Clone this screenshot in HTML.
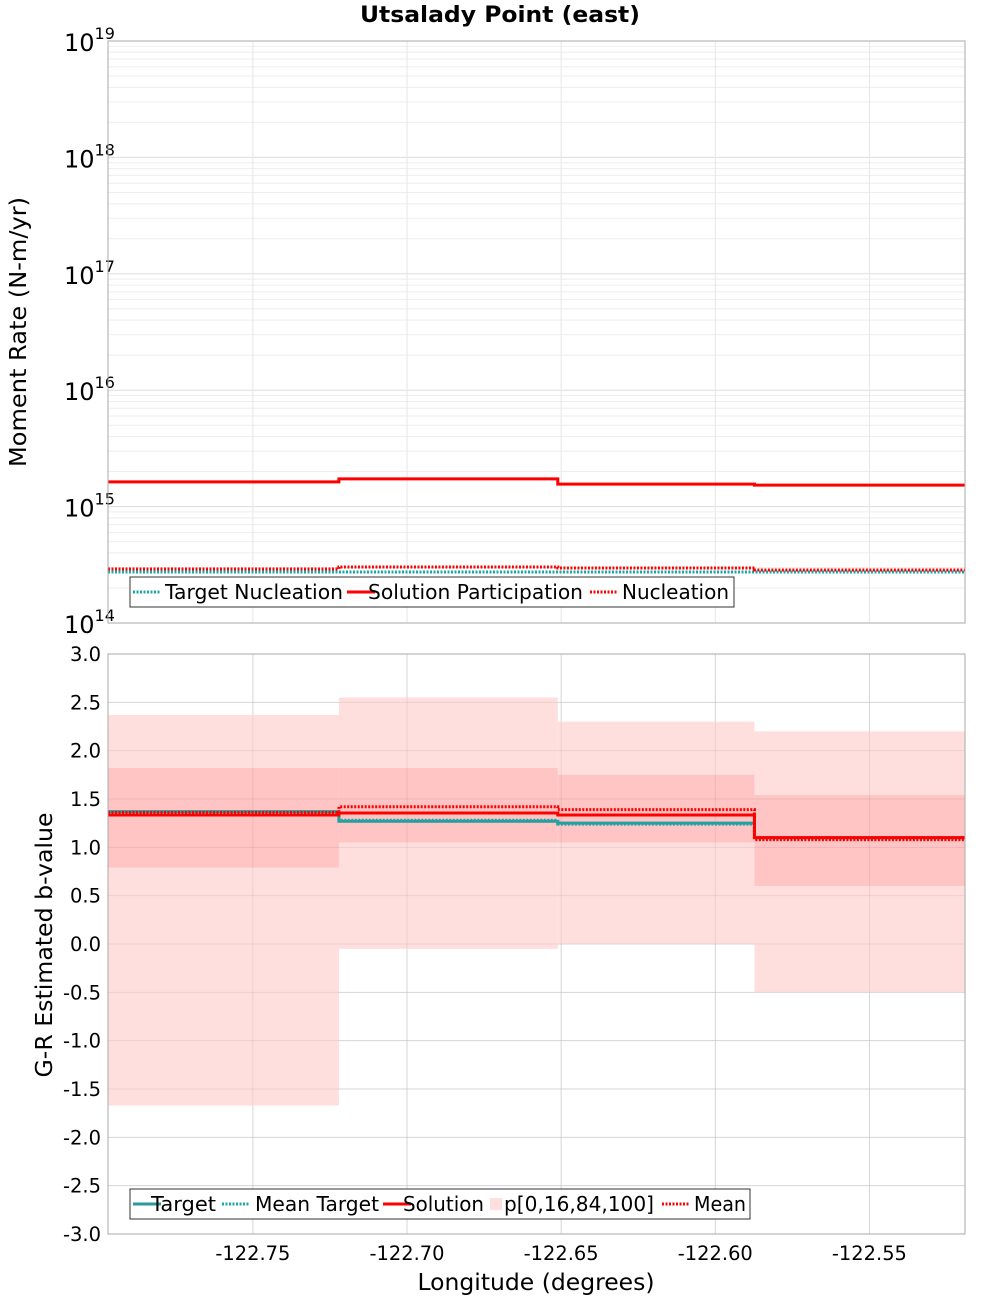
<!DOCTYPE html>
<html><head><meta charset="utf-8"><style>
body{margin:0;background:#fff;font-family:"Liberation Sans","DejaVu Sans",sans-serif}
svg text{font-family:"DejaVu Sans","Liberation Sans",sans-serif}
</style></head><body>
<svg id="c" width="1000" height="1300" xmlns="http://www.w3.org/2000/svg"></svg>
<script>
const binEdges=[-122.797,-122.7221,-122.6511,-122.5873,-122.519];
const xTicks=[-122.75,-122.70,-122.65,-122.60,-122.55];
const xTickLabels=["-122.75","-122.70","-122.65","-122.60","-122.55"];
const solPart=[1.63e15,1.73e15,1.56e15,1.53e15];
const nucl=[2.91e14,3.03e14,2.97e14,2.85e14];
const targetNucl=[2.74e14,2.74e14,2.74e14,2.74e14];
const bTarget=[1.37,1.27,1.25,1.10];
const bMeanTarget=[1.37,1.28,1.24,1.08];
const bSolution=[1.335,1.355,1.335,1.10];
const bMean=[1.36,1.42,1.39,1.08];
const p0=[-1.67,-0.05,0.0,-0.5];
const p16=[0.79,1.05,1.05,0.60];
const p84=[1.82,1.82,1.75,1.54];
const p100=[2.37,2.55,2.30,2.20];
const bTicks=[3,2.5,2,1.5,1,0.5,0,-0.5,-1,-1.5,-2,-2.5,-3];

const NS="http://www.w3.org/2000/svg";const svg=document.getElementById('c');
function mk(t,a,p){const e=document.createElementNS(NS,t);for(const k in a)e.setAttribute(k,a[k]);(p||svg).appendChild(e);return e;}
const L=108,R=965,T1=41,B1=623,T2=654,B2=1234;
const xs=v=>L+(v-binEdges[0])/(binEdges[4]-binEdges[0])*(R-L);
const ys1=v=>T1+(19-Math.log10(v))/5*(B1-T1);
const ys2=v=>T2+(3-v)/6*(B2-T2);

let t=mk('text',{x:500,y:22,'text-anchor':'middle','font-size':22,'font-weight':'bold',textLength:280,lengthAdjust:'spacingAndGlyphs'});t.textContent="Utsalady Point (east)";


let g=mk('g',{});
for(let d=14;d<19;d++)for(let m=1;m<10;m++){const y=ys1(m*Math.pow(10,d));mk('line',{x1:L,x2:R,y1:y,y2:y,stroke:m==1?'#ddd':'#eee','stroke-width':1},g);}
xTicks.forEach(v=>{mk('line',{x1:xs(v),x2:xs(v),y1:T1,y2:B1,stroke:'#e6e6e6'},g);mk('line',{x1:xs(v),x2:xs(v),y1:T2,y2:B2,stroke:'#e6e6e6'},g);});
bTicks.forEach(v=>mk('line',{x1:L,x2:R,y1:ys2(v),y2:ys2(v),stroke:'#e6e6e6'},g));
for(let d=14;d<=19;d++){const y=ys1(Math.pow(10,d));let e=mk('text',{x:64,y:y+10,'font-size':24});e.innerHTML='10<tspan dy="-12" font-size="16">'+d+'</tspan>';
}
t=mk('text',{transform:'translate(26,332) rotate(-90)','text-anchor':'middle','font-size':23,textLength:270,lengthAdjust:'spacingAndGlyphs'});t.textContent="Moment Rate (N-m/yr)";


function step(arr,ys,attrs,name){let d='';for(let i=0;i<arr.length;i++){const y=ys(arr[i]);d+=(i?'L':'M')+xs(binEdges[i])+','+y+'L'+xs(binEdges[i+1])+','+y;}
const p=mk('path',Object.assign({d:d,fill:'none'},attrs));}
step(targetNucl,ys1,{stroke:'#1aa8a8','stroke-width':3,'stroke-dasharray':'2,1.5'},'target-nucleation-line');
step(nucl,ys1,{stroke:'#f00','stroke-width':3,'stroke-dasharray':'2,1.5'},'nucleation-line');
step(solPart,ys1,{stroke:'#f00','stroke-width':3},'solution-participation-line');
mk('rect',{x:L,y:T1,width:R-L,height:B1-T1,fill:'none',stroke:'#aaa'});

for(let i=0;i<4;i++){const x=xs(binEdges[i]),w=xs(binEdges[i+1])-x;
let r=mk('rect',{x:x,y:ys2(p100[i]),width:w,height:ys2(p0[i])-ys2(p100[i]),fill:'#ffdede'});
r=mk('rect',{x:x,y:ys2(p84[i]),width:w,height:ys2(p16[i])-ys2(p84[i]),fill:'#ffc4c4'});}
bTicks.forEach(v=>mk('line',{x1:L,x2:R,y1:ys2(v),y2:ys2(v),stroke:'rgba(0,0,0,0.07)'}));
xTicks.forEach(v=>mk('line',{x1:xs(v),x2:xs(v),y1:T2,y2:B2,stroke:'rgba(0,0,0,0.07)'}));
step(bTarget,ys2,{stroke:'#2a9a9a','stroke-width':3},'target-line');
step(bMeanTarget,ys2,{stroke:'#1aa8a8','stroke-width':3,'stroke-dasharray':'2,1.5'},'mean-target-line');
step(bSolution,ys2,{stroke:'#f00','stroke-width':3},'solution-line');
step(bMean,ys2,{stroke:'#f00','stroke-width':3,'stroke-dasharray':'2,1.5'},'mean-line');
mk('rect',{x:L,y:T2,width:R-L,height:B2-T2,fill:'none',stroke:'#aaa'});
bTicks.forEach(v=>{const e=mk('text',{x:101,y:ys2(v)+7,'text-anchor':'end','font-size':19.5});e.textContent=v.toFixed(1);
});
t=mk('text',{transform:'translate(52,945) rotate(-90)','text-anchor':'middle','font-size':23,textLength:265,lengthAdjust:'spacingAndGlyphs'});t.textContent="G-R Estimated b-value";

xTicks.forEach((v,i)=>{const e=mk('text',{x:xs(v),y:1260,'text-anchor':'middle','font-size':19.5,textLength:75,lengthAdjust:'spacingAndGlyphs'});e.textContent=xTickLabels[i];
});
t=mk('text',{x:536,y:1290,'text-anchor':'middle','font-size':23,textLength:237,lengthAdjust:'spacingAndGlyphs'});t.textContent="Longitude (degrees)";


function legend(x,y,w,items,name){const g=mk('g',{});
mk('rect',{x:x,y:y,width:w,height:30,fill:'#fff',stroke:'#333'},g);
items.forEach(it=>{if(it.box)mk('rect',{x:it.sx+10,y:y+9,width:12,height:12,fill:'#ffdede'},g);
else mk('line',Object.assign({x1:it.sx,x2:it.sx+28,y1:y+15,y2:y+15,'stroke-width':3},it.s),g);
const e=mk('text',{x:it.tx,y:y+22,'font-size':20,textLength:it.tw,lengthAdjust:'spacingAndGlyphs'},g);e.textContent=it.t;});}
legend(130,577,604,[{t:'Target Nucleation',sx:133,tx:165,tw:178,s:{stroke:'#1aa8a8','stroke-dasharray':'2,1.5'}},{t:'Solution Participation',sx:347,tx:368,tw:215,s:{stroke:'#f00'}},{t:'Nucleation',sx:590,tx:622,tw:107,s:{stroke:'#f00','stroke-dasharray':'2,1.5'}}],'top-legend');
legend(130,1189,620,[{t:'Target',sx:133,tx:151,tw:65,s:{stroke:'#2a9a9a'}},{t:'Mean Target',sx:222,tx:255,tw:124,s:{stroke:'#1aa8a8','stroke-dasharray':'2,1.5'}},{t:'Solution',sx:383,tx:403,tw:81,s:{stroke:'#f00'}},{t:'p[0,16,84,100]',sx:480,tx:504,tw:150,box:1},{t:'Mean',sx:662,tx:694,tw:52,s:{stroke:'#f00','stroke-dasharray':'2,1.5'}}],'bottom-legend');
</script>
</body></html>
